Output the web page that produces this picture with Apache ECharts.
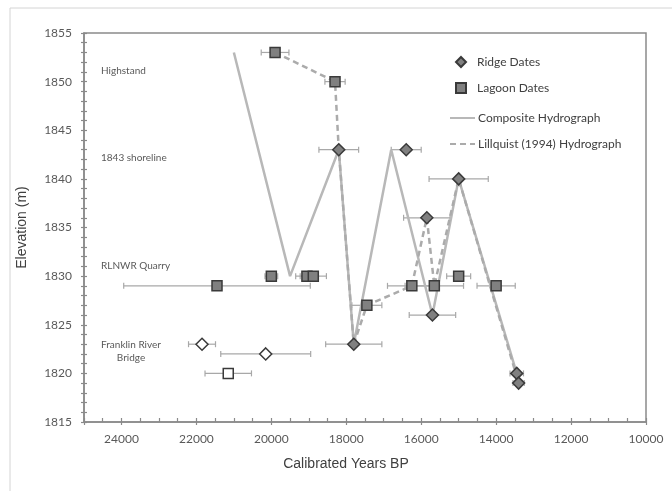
<!DOCTYPE html>
<html>
<head>
<meta charset="utf-8">
<script src="https://cdn.jsdelivr.net/npm/echarts@6/dist/echarts.min.js"></script>
<style>
  html, body { margin: 0; padding: 0; background: #ffffff; }
  #chart { width: 672px; height: 491px; }
</style>
</head>
<body>
<div id="chart"></div>
<script>
// Beach-ridge dates: calibrated years BP, elevation (m), ± 1σ age (years)
const ridgeYears = [18200, 17800, 16400, 15850, 15700, 15000, 13450, 13400];
const ridgeElev  = [1843, 1823, 1843, 1836, 1826, 1840, 1820, 1819];
const ridgeErr   = [530, 750, 400, 620, 620, 790, 180, 150];

// Lagoon dates
const lagoonYears = [19900, 18300, 20000, 19050, 18880, 21450, 17450, 16250, 15650, 15000, 14000];
const lagoonElev  = [1853, 1850, 1830, 1830, 1830, 1829, 1827, 1829, 1829, 1830, 1829];
const lagoonErr   = [370, 270, 170, 300, 350, 2490, 400, 650, 780, 320, 510];

// Franklin River Bridge samples (open symbols)
const bridgeRidgeYears = [21850, 20150];
const bridgeRidgeElev  = [1823, 1822];
const bridgeRidgeErr   = [360, 1200];
const bridgeLagoonYears = [21150];
const bridgeLagoonElev  = [1820];
const bridgeLagoonErr   = [620];

// Composite hydrograph
const compositeYears = [21000, 19500, 18200, 17800, 16800, 15700, 15000, 13450];
const compositeElev  = [1853, 1830, 1843, 1823, 1843, 1826, 1840, 1820];

// Lillquist (1994) hydrograph
const lillquistYears = [19900, 18300, 18200, 17800, 17450, 16250, 15850, 15650, 15000, 13400];
const lillquistElev  = [1853, 1850, 1843, 1823, 1827, 1829, 1836, 1829, 1840, 1819];

// Shoreline names drawn inside the plot
const shorelineLabels = ['Highstand', '1843 shoreline', 'RLNWR Quarry', 'Franklin River\nBridge'];

const zip2 = (a, b) => a.map((v, i) => [v, b[i]]);
const zip3 = (a, b, c) => a.map((v, i) => [v, b[i], c[i]]);

const AXIS_GREY = '#8a8a8a';
const LABEL_GREY = '#595959';
const BASE_FONT = 'Lato, "Open Sans", sans-serif';

function errorBar(params, api) {
  const x = api.value(0), y = api.value(1), e = api.value(2);
  const a = api.coord([x - e, y]);
  const b = api.coord([x + e, y]);
  const h = 3;
  const st = { stroke: '#a8a8a8', lineWidth: 1.2 };
  return {
    type: 'group',
    children: [
      { type: 'line', shape: { x1: a[0], y1: a[1], x2: b[0], y2: b[1] }, style: st },
      { type: 'line', shape: { x1: a[0], y1: a[1] - h, x2: a[0], y2: a[1] + h }, style: st },
      { type: 'line', shape: { x1: b[0], y1: b[1] - h, x2: b[0], y2: b[1] + h }, style: st }
    ]
  };
}

const errSeries = (data) => ({
  type: 'custom',
  renderItem: errorBar,
  data: data,
  encode: { x: 0, y: 1 },
  z: 2,
  silent: true
});

const chart = echarts.init(document.getElementById('chart'), null, { renderer: 'canvas' });

chart.setOption({
  animation: false,
  backgroundColor: '#ffffff',
  textStyle: { fontFamily: BASE_FONT },
  grid: {
    left: 84, right: 26, top: 33, bottom: 69,
    show: true, borderColor: AXIS_GREY, borderWidth: 1.5
  },
  legend: [
    {
      orient: 'vertical', left: 450, top: 51,
      itemWidth: 10, itemHeight: 10, itemGap: 14,
      data: ['Ridge Dates', 'Lagoon Dates'],
      textStyle: { fontSize: 12, color: '#404040', fontFamily: BASE_FONT, padding: [0, 0, 0, 6] }
    },
    {
      orient: 'vertical', left: 444, top: 107,
      itemWidth: 25, itemHeight: 10, itemGap: 14,
      data: ['Composite Hydrograph', 'Lillquist (1994) Hydrograph'],
      itemStyle: { opacity: 0 },
      textStyle: { fontSize: 12, color: '#404040', fontFamily: BASE_FONT, padding: [0, 0, 0, -2] }
    }
  ],
  xAxis: [
    {
      type: 'value', min: 10000, max: 25000, interval: 2000, inverse: true,
      position: 'bottom',
      name: 'Calibrated Years BP', nameLocation: 'middle', nameGap: 35,
      nameTextStyle: { fontSize: 14, color: '#404040', fontFamily: '"Liberation Sans", Arial, sans-serif', padding: [0, 38, 0, 0] },
      axisLine: { show: true, lineStyle: { color: AXIS_GREY, width: 1.5 } },
      axisTick: { show: true, length: 3, lineStyle: { color: AXIS_GREY, width: 1.2 } },
      axisLabel: {
        color: LABEL_GREY, fontSize: 12, margin: 11, fontFamily: BASE_FONT,
        formatter: (v) => (v % 2000 === 0 ? String(v) : '')
      },
      splitLine: { show: false }
    },
    {
      type: 'value', min: 10000, max: 25000, interval: 500, inverse: true,
      position: 'bottom', offset: 0,
      axisLine: { show: false },
      axisTick: { show: true, inside: true, length: 4, lineStyle: { color: AXIS_GREY, width: 1.2 } },
      axisLabel: { show: false },
      splitLine: { show: false }
    }
  ],
  yAxis: [
    {
      type: 'value', min: 1815, max: 1855, interval: 1,
      position: 'left',
      name: 'Elevation (m)', nameLocation: 'middle', nameGap: 55,
      nameTextStyle: { fontSize: 14, color: '#404040', fontFamily: '"Liberation Sans", Arial, sans-serif' },
      axisLine: { show: true, lineStyle: { color: AXIS_GREY, width: 1.5 } },
      axisTick: { show: true, length: 3, lineStyle: { color: AXIS_GREY, width: 1.2 } },
      axisLabel: {
        color: LABEL_GREY, fontSize: 12, margin: 12, fontFamily: BASE_FONT,
        formatter: (v) => (v % 5 === 0 ? String(v) : '')
      },
      splitLine: { show: false }
    },
    {
      type: 'value', min: 1815, max: 1855, interval: 1,
      position: 'left', offset: 0,
      axisLine: { show: false },
      axisTick: { show: true, inside: true, length: 3, lineStyle: { color: AXIS_GREY, width: 1.2 } },
      axisLabel: { show: false },
      splitLine: { show: false }
    }
  ],
  series: [
    errSeries(zip3(ridgeYears, ridgeElev, ridgeErr)),
    errSeries(zip3(lagoonYears, lagoonElev, lagoonErr)),
    errSeries(zip3(bridgeRidgeYears, bridgeRidgeElev, bridgeRidgeErr)),
    errSeries(zip3(bridgeLagoonYears, bridgeLagoonElev, bridgeLagoonErr)),
    {
      name: 'Composite Hydrograph',
      type: 'line',
      data: zip2(compositeYears, compositeElev),
      symbol: 'none',
      lineStyle: { color: '#b8b8b8', width: 2.5 },
      itemStyle: { color: '#b8b8b8' },
      z: 3
    },
    {
      name: 'Lillquist (1994) Hydrograph',
      type: 'line',
      data: zip2(lillquistYears, lillquistElev),
      symbol: 'none',
      lineStyle: { color: '#ababab', width: 2.5, type: [6, 4] },
      itemStyle: { color: '#ababab' },
      z: 4
    },
    {
      name: 'Ridge Dates',
      type: 'scatter',
      data: zip2(ridgeYears, ridgeElev),
      symbol: 'diamond', symbolSize: 12,
      itemStyle: { color: '#808080', borderColor: '#3a3a3a', borderWidth: 1.5, opacity: 1 },
      z: 6
    },
    {
      name: 'Lagoon Dates',
      type: 'scatter',
      data: zip2(lagoonYears, lagoonElev),
      symbol: 'rect', symbolSize: 10,
      itemStyle: { color: '#808080', borderColor: '#3a3a3a', borderWidth: 1.5, opacity: 1 },
      z: 6
    },
    {
      name: 'Bridge ridge',
      type: 'scatter',
      data: zip2(bridgeRidgeYears, bridgeRidgeElev),
      symbol: 'diamond', symbolSize: 12,
      itemStyle: { color: '#ffffff', borderColor: '#3a3a3a', borderWidth: 1.5, opacity: 1 },
      z: 6
    },
    {
      name: 'Bridge lagoon',
      type: 'scatter',
      data: zip2(bridgeLagoonYears, bridgeLagoonElev),
      symbol: 'rect', symbolSize: 10,
      itemStyle: { color: '#ffffff', borderColor: '#3a3a3a', borderWidth: 1.5, opacity: 1 },
      z: 6
    }
  ],
  graphic: [
    // outer chart frame (top and left edges)
    { type: 'line', shape: { x1: 10, y1: 8, x2: 672, y2: 8 }, style: { stroke: '#d4d4d4', lineWidth: 1 }, silent: true },
    { type: 'line', shape: { x1: 10, y1: 8, x2: 10, y2: 491 }, style: { stroke: '#d4d4d4', lineWidth: 1 }, silent: true },
    // shoreline names
    { type: 'text', left: 101, top: 66, style: { text: shorelineLabels[0], fill: LABEL_GREY, font: '10px ' + BASE_FONT } },
    { type: 'text', left: 101, top: 153, style: { text: shorelineLabels[1], fill: LABEL_GREY, font: '10px ' + BASE_FONT } },
    { type: 'text', left: 101, top: 261, style: { text: shorelineLabels[2], fill: LABEL_GREY, font: '10px ' + BASE_FONT } },
    { type: 'text', x: 131, y: 338, style: { text: shorelineLabels[3], fill: LABEL_GREY, font: '10px ' + BASE_FONT, align: 'center', verticalAlign: 'top', lineHeight: 13 } }
  ]
});
</script>
</body>
</html>
